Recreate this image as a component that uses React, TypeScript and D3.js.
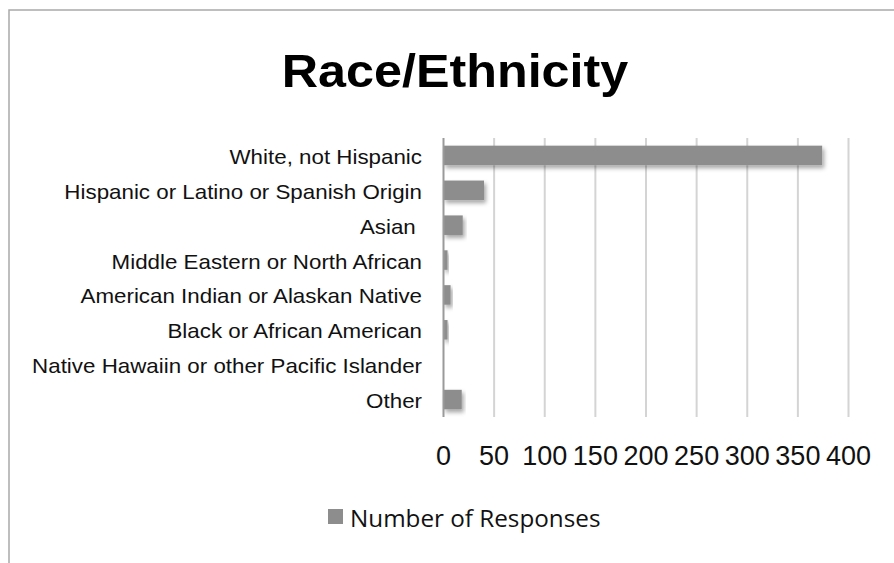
import * as d3 from "d3";

const categories = [
  "White, not Hispanic",
  "Hispanic or Latino or Spanish Origin",
  "Asian ",
  "Middle Eastern or North African",
  "American Indian or Alaskan Native",
  "Black or African American",
  "Native Hawaiin or other Pacific Islander",
  "Other",
];
const responses = [374, 40, 19, 4, 7, 4, 0, 18];
const xTicks = [0, 50, 100, 150, 200, 250, 300, 350, 400];
const seriesName = "Number of Responses";
const title = "Race/Ethnicity";

const W = 894;
const H = 563;
const plot = { left: 443.5, right: 848.5, top: 138, bottom: 417 };
const barColor = "#8d8d8d";
// the source picture is a little wider than Arial at its height
const stretch = 1.09;

export default function App() {
  const x = d3.scaleLinear().domain([0, 400]).range([plot.left, plot.right]);
  const y = d3
    .scaleBand<string>()
    .domain(categories)
    .range([plot.top, plot.bottom])
    .paddingInner(0.44)
    .paddingOuter(0.22);

  return (
    <svg
      width={W}
      height={H}
      style={{ position: "absolute", left: 0, top: 0, background: "#fff" }}
    >
      <defs>
        <filter id="shadow" x="-10%" y="-30%" width="130%" height="190%">
          <feDropShadow dx="2" dy="3" stdDeviation="2" floodColor="#000" floodOpacity="0.35" />
        </filter>
      </defs>
      {/* chart frame, cut off on the right and bottom */}
      <rect x={9} y={10} width={W} height={H} fill="none" stroke="#a9a9a9" strokeWidth={1.5} />

      <text
        transform={`translate(455,87) scale(1.07,1)`}
        textAnchor="middle"
        fontFamily="Liberation Sans, Arial, sans-serif"
        fontWeight="bold"
        fontSize={47}
        fill="#000"
      >
        {title}
      </text>

      {/* vertical gridlines */}
      {xTicks.slice(1).map((t) => (
        <line
          key={t}
          x1={x(t)}
          x2={x(t)}
          y1={plot.top}
          y2={plot.bottom}
          stroke="#d4d4d4"
          strokeWidth={2}
        />
      ))}

      {categories.map((c, i) => (
        <rect
          key={c}
          x={x(0)}
          y={y(c)}
          width={x(responses[i]) - x(0)}
          height={y.bandwidth()}
          fill={barColor}
          filter="url(#shadow)"
        />
      ))}

      <line x1={x(0)} x2={x(0)} y1={plot.top} y2={plot.bottom} stroke="#9a9a9a" strokeWidth={2} />

      {categories.map((c) => (
        <text
          key={c}
          transform={`translate(422,${(y(c) ?? 0) + y.bandwidth() / 2 + 8.5}) scale(${stretch},1)`}
          textAnchor="end"
          fontFamily="Liberation Sans, Arial, sans-serif"
          fontSize={20.5}
          fill="#111"
          style={{ whiteSpace: "pre" }}
        >
          {c}
        </text>
      ))}

      {xTicks.map((t) => (
        <text
          key={t}
          x={x(t)}
          y={465}
          textAnchor="middle"
          fontFamily="Liberation Sans, Arial, sans-serif"
          fontSize={27}
          fill="#111"
        >
          {t}
        </text>
      ))}

      <rect x={328} y={509} width={15} height={15} fill={barColor} />
      <text
        transform="translate(350,527) scale(1.055,1)"
        fontFamily="Open Sans, sans-serif"
        fontSize={23}
        fill="#111"
      >
        {seriesName}
      </text>
    </svg>
  );
}
